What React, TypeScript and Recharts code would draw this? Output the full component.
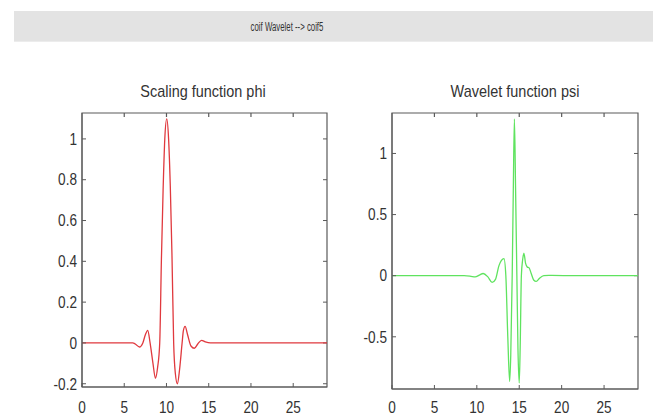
import { LineChart, Line, XAxis, YAxis, ReferenceLine, ReferenceArea } from 'recharts';

// coif5 scaling function (phi)
const phiX = [0, 5, 6.0, 6.3, 6.8, 7.2, 7.5, 7.78, 8.06, 8.4, 8.69, 8.95, 9.2, 9.4, 9.6, 9.8, 10.03, 10.25, 10.45, 10.65, 10.85, 11.05, 11.29, 11.55, 11.85, 12.0, 12.2, 12.5, 12.9, 13.3, 13.7, 14.15, 14.6, 15.2, 20, 29];
const phiY = [0, 0, 0, -0.005, -0.02, 0.0, 0.04, 0.062, 0.0, -0.1, -0.173, -0.12, 0.0, 0.41, 0.75, 1.0, 1.098, 1.0, 0.77, 0.43, 0.0, -0.15, -0.2, -0.13, 0.0, 0.06, 0.081, 0.04, -0.015, -0.026, -0.005, 0.013, 0.005, 0, 0, 0];

// coif5 wavelet function (psi)
const psiX = [0, 8.5, 9.3, 9.8, 10.3, 10.75, 11.3, 11.8, 12.2, 12.6, 12.9, 13.2, 13.42, 13.65, 13.87, 14.0, 14.17, 14.3, 14.43, 14.57, 14.72, 14.85, 15.0, 15.12, 15.25, 15.4, 15.55, 15.75, 15.95, 16.15, 16.4, 16.7, 17.0, 17.4, 17.9, 18.5, 22, 29];
const psiY = [0, 0, -0.005, -0.01, 0.005, 0.018, -0.01, -0.055, -0.03, 0.08, 0.125, 0.14, 0.0, -0.5, -0.865, -0.65, 0.0, 0.7, 1.282, 0.7, 0.0, -0.6, -0.878, -0.55, 0.0, 0.13, 0.185, 0.1, 0.07, 0.065, 0.02, -0.035, -0.047, -0.02, 0.0, 0.002, 0, 0];

const xTicks = [0, 5, 10, 15, 20, 25];
const phiTicks = [-0.2, 0, 0.2, 0.4, 0.6, 0.8, 1];
const psiTicks = [-0.5, 0, 0.5, 1];

const headerText = 'coif Wavelet --> coif5';
const phiTitle = 'Scaling function phi';
const psiTitle = 'Wavelet function psi';

const FONT = "'Liberation Sans', Arial, sans-serif";
const BOX = '#5a5a5a';
const TXT = '#333';

const phiData = phiX.map((x, i) => ({ x, y: phiY[i] }));
const psiData = psiX.map((x, i) => ({ x, y: psiY[i] }));

// matlab-style ticks: short marks pointing into the box, narrow labels outside
const BottomTick = ({ x, y, payload, labelDy }: any) => (
  <g>
    <line x1={x} x2={x} y1={y} y2={y - 4} stroke={BOX} />
    <text transform={`translate(${x},${y + labelDy}) scale(0.85,1)`} textAnchor="middle" fill={TXT} fontSize={16} fontFamily={FONT}>
      {payload.value}
    </text>
  </g>
);
const LeftTick = ({ x, y, payload }: any) => (
  <g>
    <line x1={x} x2={x + 4} y1={y} y2={y} stroke={BOX} />
    <text transform={`translate(${x - 5},${y}) scale(0.85,1)`} textAnchor="end" dy="0.36em" fill={TXT} fontSize={16} fontFamily={FONT}>
      {payload.value}
    </text>
  </g>
);

// inward tick marks on the top and right edges of the box
const TopTickMark = (p: any) => {
  const top = Math.min(p.y1, p.y2);
  return <line x1={p.x1} x2={p.x1} y1={top} y2={top + 4} stroke={BOX} strokeWidth={1.2} />;
};
const RightTickMark = (p: any) => {
  const right = Math.max(p.x1, p.x2);
  return <line x1={right} x2={right - 4} y1={p.y1} y2={p.y1} stroke={BOX} strokeWidth={1} />;
};

function Panel({ data, color, domain, ticks, left, width, marginRight, xHeight, labelDy }: any) {
  return (
    <div style={{ position: 'absolute', left, top: 0 }}>
      <LineChart width={width} height={417} data={data} margin={{ top: 113, right: marginRight, left: 42, bottom: 0 }}>
        <XAxis dataKey="x" type="number" domain={[0, 29]} ticks={xTicks} allowDataOverflow
          height={xHeight} stroke={BOX} tickLine={false} tickSize={0} tickMargin={0}
          tick={(p: any) => <BottomTick {...p} labelDy={labelDy} />} />
        <YAxis type="number" domain={domain} ticks={ticks} allowDataOverflow width={40}
          stroke={BOX} tickLine={false} tickSize={0} tickMargin={0} tick={LeftTick} />
        <ReferenceArea x1={0} x2={29} y1={domain[0]} y2={domain[1]} ifOverflow="visible"
          fill="none" fillOpacity={0} stroke={BOX} strokeWidth={1.2} />
        {xTicks.slice(1).map((t) => (
          <ReferenceLine key={`t${t}`} x={t} ifOverflow="visible" shape={TopTickMark} />
        ))}
        {ticks.map((t: number) => (
          <ReferenceLine key={`r${t}`} y={t} ifOverflow="visible" shape={RightTickMark} />
        ))}
        <Line type="monotone" dataKey="y" stroke={color} strokeWidth={1.3} dot={false} isAnimationActive={false} />
      </LineChart>
    </div>
  );
}

export default function App() {
  return (
    <div style={{ position: 'absolute', left: 0, top: 0, width: 653, height: 417, background: '#fff', overflow: 'hidden', fontFamily: FONT }}>
      <div style={{ position: 'absolute', left: 14, top: 11, width: 639, height: 30, background: '#e3e3e3', borderBottom: '1px solid #ececec' }} />
      <div style={{ position: 'absolute', left: 187, top: 20, width: 200, textAlign: 'center', fontSize: 12, color: '#333', transform: 'scaleX(0.65)' }}>{headerText}</div>
      <div style={{ position: 'absolute', left: 103, top: 82, width: 200, textAlign: 'center', fontSize: 17, color: '#333', transform: 'scaleX(0.85)' }}>{phiTitle}</div>
      <div style={{ position: 'absolute', left: 415, top: 82, width: 200, textAlign: 'center', fontSize: 17, color: '#333', transform: 'scaleX(0.85)' }}>{psiTitle}</div>
      <Panel data={phiData} color="#e0393e" domain={[-0.216, 1.127]} ticks={phiTicks}
        left={0} width={340} marginRight={13} xHeight={30} labelDy={26} />
      <Panel data={psiData} color="#5fe35f" domain={[-0.927, 1.331]} ticks={psiTicks}
        left={310} width={343} marginRight={15} xHeight={28} labelDy={24} />
    </div>
  );
}
